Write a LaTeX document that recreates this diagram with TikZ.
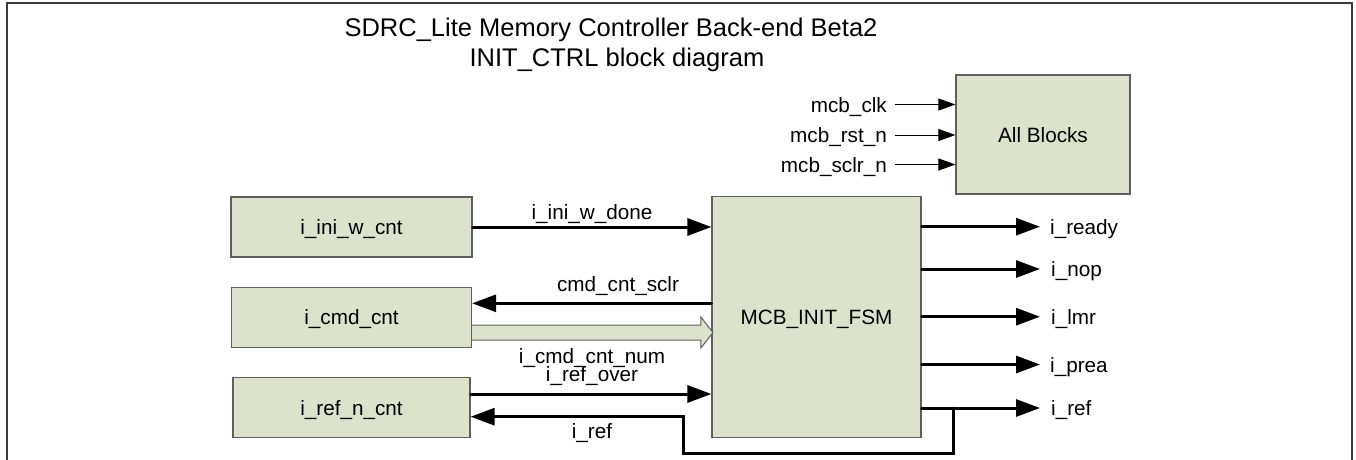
\documentclass[tikz,border=0pt]{standalone}
\usepackage{fontspec}
\setmainfont{Liberation Sans}
\usetikzlibrary{arrows.meta,calc}
\definecolor{boxfill}{RGB}{221,226,204}
\definecolor{boxline}{RGB}{95,95,95}
\definecolor{framecol}{RGB}{60,60,60}
\begin{document}
\begin{tikzpicture}[x=1pt,y=-1pt,
  blk/.style={draw=boxline,line width=1.2pt,fill=boxfill,inner sep=0pt,
    font=\fontsize{20.7}{24}\selectfont,text height=15pt,text depth=0pt},
  lbl/.style={inner sep=0pt,font=\fontsize{20.7}{24}\selectfont,text height=15pt,text depth=0pt},
  sigtxt/.style={inner sep=0pt,font=\fontsize{20.7}{24}\selectfont,anchor=base},
  ttl/.style={inner sep=0pt,font=\fontsize{25.5}{29}\selectfont,anchor=base},
  bus/.style={line width=3pt,line cap=round,-{Triangle[length=24pt,width=17pt]}},
  wire/.style={line width=3pt,line cap=round,line join=miter},
  thinarrow/.style={line width=1pt,-{Triangle[length=17pt,width=12pt]}},
]
\useasboundingbox (0,0) rectangle (1356,459);
% frame
\draw[framecol,line width=2pt] (6.5,462) -- (6.5,3) -- (1352,3) -- (1352,462);

% title
\node[ttl] (t1) at (611,36) {SDRC\_Lite Memory Controller Back-end Beta2};
\node[ttl] (t2) at (617,66) {INIT\_CTRL block diagram};

% blocks
\node[blk,minimum width=241pt,minimum height=60pt] (ini) at (351.5,227) {i\_ini\_w\_cnt};
\node[blk,minimum width=240pt,minimum height=60pt] (cmd) at (351.5,317.3) {i\_cmd\_cnt};
\node[blk,minimum width=237pt,minimum height=60.5pt] (refc) at (351.5,407.5) {i\_ref\_n\_cnt};
\node[blk,minimum width=209pt,minimum height=241pt] (fsm) at (816.5,317.3) {MCB\_INIT\_FSM};
\node[blk,minimum width=174pt,minimum height=119pt] (all) at (1043,134.5) {All Blocks};

% global inputs
\node[lbl,anchor=east] (clk) at (887,104.5) {mcb\_clk};
\node[lbl,anchor=east] (rst) at (887,135) {mcb\_rst\_n};
\node[lbl,anchor=east] (sclr) at (887,164.5) {mcb\_sclr\_n};
\draw[thinarrow] ($(clk.east)+(8,0)$) -- (clk -| all.west);
\draw[thinarrow] ($(rst.east)+(8,0)$) -- (rst -| all.west);
\draw[thinarrow] ($(sclr.east)+(8,0)$) -- (sclr -| all.west);

% i_ini_w_done
\draw[bus] (ini.east) -- (ini.east -| fsm.west);
\node[sigtxt] (l1) at (592,219) {i\_ini\_w\_done};

% cmd_cnt_sclr
\coordinate (ys) at (0,303.3);
\draw[bus] (fsm.west |- ys) -- (cmd.east |- ys);
\node[sigtxt] (l2) at (618,291.5) {cmd\_cnt\_sclr};

% i_cmd_cnt_num (hollow bus arrow)
\coordinate (bn) at (0,332.5);
\coordinate (bs) at (cmd.east |- bn);
\coordinate (be) at ($(fsm.west |- bn)+(1.5,0)$);
\fill[boxfill] ($(bs)+(0,-7.5)$) -- ($(be)+(-12,-7.5)$) -- ($(be)+(-12,-15.5)$) -- (be)
  -- ($(be)+(-12,15.5)$) -- ($(be)+(-12,7.5)$) -- ($(bs)+(0,7.5)$) -- cycle;
\draw[boxline,line width=1pt,line join=miter] ($(bs)+(0,-7.5)$) -- ($(be)+(-12,-7.5)$) -- ($(be)+(-12,-15.5)$) -- (be)
  -- ($(be)+(-12,15.5)$) -- ($(be)+(-12,7.5)$) -- ($(bs)+(0,7.5)$);
\node[sigtxt] (l3) at (592,363) {i\_cmd\_cnt\_num};

% i_ref_over
\coordinate (yo) at (0,394);
\draw[bus] (refc.east |- yo) -- (fsm.west |- yo);
\node[sigtxt] (l4) at (592,381.5) {i\_ref\_over};

% outputs
\node[lbl,anchor=west] (ready) at (1050,226.7) {i\_ready};
\node[lbl,anchor=west] (nop) at (1051,269) {i\_nop};
\node[lbl,anchor=west] (lmr) at (1051,316.7) {i\_lmr};
\node[lbl,anchor=west] (prea) at (1050,364.5) {i\_prea};
\node[lbl,anchor=west] (oref) at (1051,408) {i\_ref};
\draw[bus] (fsm.east |- ready) -- ($(ready.west)+(-10,0)$);
\draw[bus] (fsm.east |- nop) -- ($(nop.west)+(-11,0)$);
\draw[bus] (fsm.east |- lmr) -- ($(lmr.west)+(-11,0)$);
\draw[bus] (fsm.east |- prea) -- ($(prea.west)+(-10,0)$);
\draw[bus] (fsm.east |- oref) -- ($(oref.west)+(-11,0)$);

% i_ref feedback to i_ref_n_cnt
\coordinate (brk) at ($(fsm.east |- oref)+(32,0)$);
\coordinate (low) at (683,453);
\coordinate (yf) at (0,416.7);
\draw[wire,-{Triangle[length=24pt,width=17pt]}] (brk) |- (low) |- (refc.east |- yf);
\node[sigtxt] (l5) at (592,438.5) {i\_ref};
\end{tikzpicture}
\end{document}
